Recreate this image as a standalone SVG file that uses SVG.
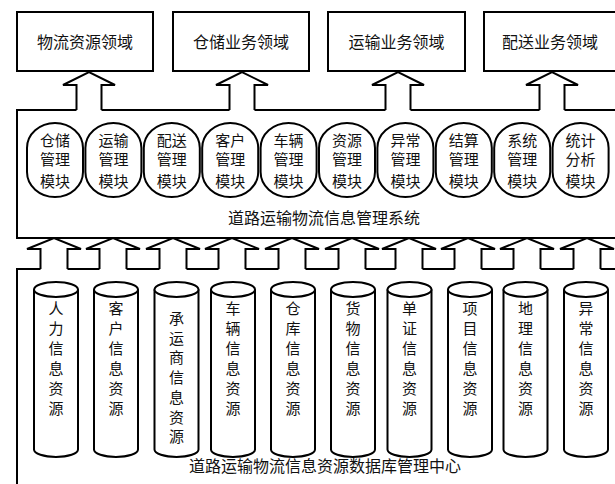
<svg xmlns="http://www.w3.org/2000/svg" width="615" height="484" viewBox="0 0 615 484">
<style>
.ln{fill:none;stroke:#000;stroke-width:2;stroke-linejoin:miter}
.box{fill:#fff;stroke:#000;stroke-width:2}
.t{font-family:"Noto Sans CJK SC","Noto Sans",sans-serif;font-size:16px;fill:#111;text-anchor:middle;dominant-baseline:central}
.ts{font-family:"Noto Sans CJK SC","Noto Sans",sans-serif;font-size:15px;fill:#111;text-anchor:middle;dominant-baseline:central}
</style>
<rect width="615" height="484" fill="#fff"/>
<defs>
<g id="cap"><rect x="-28" y="123" width="56" height="74" rx="28" ry="25" class="box"/></g>
<g id="cyl"><path d="M-22,289.5 L-22,449.5 A22,7.5 0 0 0 22,449.5 L22,289.5" class="box"/><ellipse cx="0" cy="289.5" rx="22" ry="7.5" class="box"/></g>
</defs>

<!-- top domain boxes -->
<g id="domain-1"><rect x="17" y="12" width="136" height="59" class="box"/><text class="t" x="85" y="41">物流资源领域</text></g>
<g id="domain-2"><rect x="173" y="12" width="136" height="59" class="box"/><text class="t" x="241" y="41">仓储业务领域</text></g>
<g id="domain-3"><rect x="328" y="12" width="137" height="59" class="box"/><text class="t" x="396.5" y="41">运输业务领域</text></g>
<g id="domain-4"><rect x="484" y="12" width="140" height="59" class="box"/><text class="t" x="550" y="41">配送业务领域</text></g>

<!-- system container (outline with gaps where arrows join) -->
<g id="system">
<path class="ln" d="M76.5,110 L17,110 L17,238 L620,238 M101.5,110 L229.5,110 M254.5,110 L385.5,110 M410.5,110 L539.5,110 M564.5,110 L620,110"/>
<text class="t" x="324" y="217">道路运输物流信息管理系统</text>
</g>

<!-- modules -->
<g id="module-1"><use href="#cap" x="55"/><text class="ts" x="55" y="139">仓储</text><text class="ts" x="55" y="158">管理</text><text class="ts" x="55" y="180">模块</text></g>
<g id="module-2"><use href="#cap" x="113.4"/><text class="ts" x="113.4" y="139">运输</text><text class="ts" x="113.4" y="158">管理</text><text class="ts" x="113.4" y="180">模块</text></g>
<g id="module-3"><use href="#cap" x="171.8"/><text class="ts" x="171.8" y="139">配送</text><text class="ts" x="171.8" y="158">管理</text><text class="ts" x="171.8" y="180">模块</text></g>
<g id="module-4"><use href="#cap" x="230.2"/><text class="ts" x="230.2" y="139">客户</text><text class="ts" x="230.2" y="158">管理</text><text class="ts" x="230.2" y="180">模块</text></g>
<g id="module-5"><use href="#cap" x="288.6"/><text class="ts" x="288.6" y="139">车辆</text><text class="ts" x="288.6" y="158">管理</text><text class="ts" x="288.6" y="180">模块</text></g>
<g id="module-6"><use href="#cap" x="347"/><text class="ts" x="347" y="139">资源</text><text class="ts" x="347" y="158">管理</text><text class="ts" x="347" y="180">模块</text></g>
<g id="module-7"><use href="#cap" x="405.4"/><text class="ts" x="405.4" y="139">异常</text><text class="ts" x="405.4" y="158">管理</text><text class="ts" x="405.4" y="180">模块</text></g>
<g id="module-8"><use href="#cap" x="463.8"/><text class="ts" x="463.8" y="139">结算</text><text class="ts" x="463.8" y="158">管理</text><text class="ts" x="463.8" y="180">模块</text></g>
<g id="module-9"><use href="#cap" x="522.2"/><text class="ts" x="522.2" y="139">系统</text><text class="ts" x="522.2" y="158">管理</text><text class="ts" x="522.2" y="180">模块</text></g>
<g id="module-10"><use href="#cap" x="580.6"/><text class="ts" x="580.6" y="139">统计</text><text class="ts" x="580.6" y="158">分析</text><text class="ts" x="580.6" y="180">模块</text></g>

<!-- database center container -->
<g id="database-center">
<path class="ln" d="M17,490 L17,269 L40.5,269 M67.5,269 L99.5,269 M126.5,269 L159.5,269 M186.5,269 L218.5,269 M245.5,269 L278.5,269 M305.5,269 L338.5,269 M365.5,269 L395.5,269 M422.5,269 L454.5,269 M481.5,269 L513.5,269 M540.5,269 L573.5,269 M600.5,269 L620,269"/>
<text class="t" x="325" y="465">道路运输物流信息资源数据库管理中心</text>
</g>

<!-- resource cylinders -->
<g id="res-1"><use href="#cyl" x="56"/><text class="ts" x="56"><tspan x="56" y="307">人</tspan><tspan x="56" y="327">力</tspan><tspan x="56" y="347">信</tspan><tspan x="56" y="367">息</tspan><tspan x="56" y="387">资</tspan><tspan x="56" y="407">源</tspan></text></g>
<g id="res-2"><use href="#cyl" x="116"/><text class="ts" x="116"><tspan x="116" y="307">客</tspan><tspan x="116" y="327">户</tspan><tspan x="116" y="347">信</tspan><tspan x="116" y="367">息</tspan><tspan x="116" y="387">资</tspan><tspan x="116" y="407">源</tspan></text></g>
<g id="res-3"><use href="#cyl" x="176.5"/><text class="ts" x="176.5"><tspan x="176.5" y="317">承</tspan><tspan x="176.5" y="336.7">运</tspan><tspan x="176.5" y="356.4">商</tspan><tspan x="176.5" y="376">信</tspan><tspan x="176.5" y="395.8">息</tspan><tspan x="176.5" y="415.5">资</tspan><tspan x="176.5" y="435.2">源</tspan></text></g>
<g id="res-4"><use href="#cyl" x="233"/><text class="ts" x="233"><tspan x="233" y="307">车</tspan><tspan x="233" y="327">辆</tspan><tspan x="233" y="347">信</tspan><tspan x="233" y="367">息</tspan><tspan x="233" y="387">资</tspan><tspan x="233" y="407">源</tspan></text></g>
<g id="res-5"><use href="#cyl" x="293"/><text class="ts" x="293"><tspan x="293" y="307">仓</tspan><tspan x="293" y="327">库</tspan><tspan x="293" y="347">信</tspan><tspan x="293" y="367">息</tspan><tspan x="293" y="387">资</tspan><tspan x="293" y="407">源</tspan></text></g>
<g id="res-6"><use href="#cyl" x="353"/><text class="ts" x="353"><tspan x="353" y="307">货</tspan><tspan x="353" y="327">物</tspan><tspan x="353" y="347">信</tspan><tspan x="353" y="367">息</tspan><tspan x="353" y="387">资</tspan><tspan x="353" y="407">源</tspan></text></g>
<g id="res-7"><use href="#cyl" x="409.5"/><text class="ts" x="409.5"><tspan x="409.5" y="307">单</tspan><tspan x="409.5" y="327">证</tspan><tspan x="409.5" y="347">信</tspan><tspan x="409.5" y="367">息</tspan><tspan x="409.5" y="387">资</tspan><tspan x="409.5" y="407">源</tspan></text></g>
<g id="res-8"><use href="#cyl" x="470"/><text class="ts" x="470"><tspan x="470" y="307">项</tspan><tspan x="470" y="327">目</tspan><tspan x="470" y="347">信</tspan><tspan x="470" y="367">息</tspan><tspan x="470" y="387">资</tspan><tspan x="470" y="407">源</tspan></text></g>
<g id="res-9"><use href="#cyl" x="525.5"/><text class="ts" x="525.5"><tspan x="525.5" y="307">地</tspan><tspan x="525.5" y="327">理</tspan><tspan x="525.5" y="347">信</tspan><tspan x="525.5" y="367">息</tspan><tspan x="525.5" y="387">资</tspan><tspan x="525.5" y="407">源</tspan></text></g>
<g id="res-10"><use href="#cyl" x="586"/><text class="ts" x="586"><tspan x="586" y="307">异</tspan><tspan x="586" y="327">常</tspan><tspan x="586" y="347">信</tspan><tspan x="586" y="367">息</tspan><tspan x="586" y="387">资</tspan><tspan x="586" y="407">源</tspan></text></g>

<!-- connectors: block arrows -->
<g id="connectors" class="ln">
<path d="M76.5,110 L76.5,85 L63,85 L89,72 L115,85 L101.5,85 L101.5,110"/>
<path d="M229.5,110 L229.5,85 L216,85 L242,72 L268,85 L254.5,85 L254.5,110"/>
<path d="M385.5,110 L385.5,85 L372,85 L398,72 L424,85 L410.5,85 L410.5,110"/>
<path d="M539.5,110 L539.5,85 L526,85 L552,72 L578,85 L564.5,85 L564.5,110"/>
<path d="M40.5,269 L40.5,249 L27,249 L54,238 L81,249 L67.5,249 L67.5,269"/>
<path d="M99.5,269 L99.5,249 L86,249 L113,238 L140,249 L126.5,249 L126.5,269"/>
<path d="M159.5,269 L159.5,249 L146,249 L173,238 L200,249 L186.5,249 L186.5,269"/>
<path d="M218.5,269 L218.5,249 L205,249 L232,238 L259,249 L245.5,249 L245.5,269"/>
<path d="M278.5,269 L278.5,249 L265,249 L292,238 L319,249 L305.5,249 L305.5,269"/>
<path d="M338.5,269 L338.5,249 L325,249 L352,238 L379,249 L365.5,249 L365.5,269"/>
<path d="M395.5,269 L395.5,249 L382,249 L409,238 L436,249 L422.5,249 L422.5,269"/>
<path d="M454.5,269 L454.5,249 L441,249 L468,238 L495,249 L481.5,249 L481.5,269"/>
<path d="M513.5,269 L513.5,249 L500,249 L527,238 L554,249 L540.5,249 L540.5,269"/>
<path d="M573.5,269 L573.5,249 L560,249 L587,238 L614,249 L600.5,249 L600.5,269"/>
</g>
</svg>
